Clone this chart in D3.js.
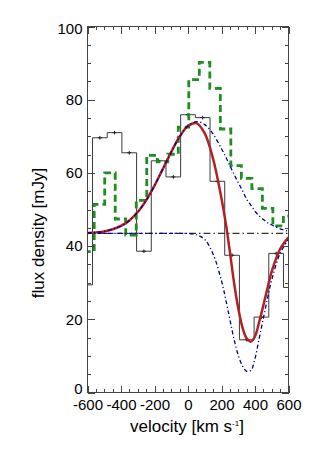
<!DOCTYPE html>
<html>
<head>
<meta charset="utf-8">
<script src="https://cdn.jsdelivr.net/npm/d3@7"></script>
<style>
  body { margin: 0; background: #fff; }
  text { font-family: "Liberation Sans", Arial, Helvetica, sans-serif; fill: #000; }
</style>
</head>
<body>
<div id="chart"></div>
<script>
// Observed spectrum, 87.7 km/s channels (black steps)
const BLACK_CENTERS = [-613.9, -526.2, -438.5, -350.8, -263.1, -175.4, -87.7, 0, 87.7, 175.4, 263.1, 350.8, 438.5, 526.2, 613.9];
const BLACK_FLUX = [29.4, 69.6, 71.0, 65.5, 38.6, 63.3, 58.9, 75.9, 75.1, 57.7, 37.5, 14.4, 20.6, 38.0, 28.7];
const BLACK_ERR = [0.5, 0.5, 0.5, 0.5, 0.5, 0.5, 0.5, 0.5, 0.5, 0.5, 0.5, 0.5, 0.5, 0.5, 0.5];
const BLACK_WIDTH = 87.7;

// Second spectrum, 62.75 km/s channels (green dashed steps)
const GREEN_CENTERS = [-591.4, -528.6, -465.9, -403.1, -340.4, -277.6, -214.9, -152.1, -89.4, -26.6,
                       36.1, 98.9, 161.6, 224.4, 287.1, 349.9, 412.6, 475.4, 538.1, 600.9];
const GREEN_FLUX = [38.5, 51.4, 60.0, 47.4, 43.0, 52.5, 64.8, 63.0, 65.1, 72.5,
                    85.5, 90.2, 83.1, 72.0, 62.0, 58.5, 55.7, 50.3, 45.5, 48.2];
const GREEN_WIDTH = 62.75;

// Model curves sampled along velocity
const MODEL_V = [-600, -550, -500, -450, -400, -350, -300, -250, -200, -150, -100, -50, 0, 50, 100, 150,
                 200, 225, 250, 275, 300, 325, 350, 375, 400, 425, 450, 475, 500, 550, 600];
const MODEL_TOTAL = [43.6, 43.75, 44.0, 44.6, 45.5, 47.0, 49.3, 52.5, 56.5, 61.1, 65.7, 69.9, 72.8, 73.6, 70.8, 63.8,
                     53.0, 46.4, 38.5, 30.0, 23.0, 17.8, 14.8, 13.9, 15.3, 19.3, 23.8, 28.6, 33.1, 39.2, 42.4];
const MODEL_EMISSION = [43.6, 43.75, 44.0, 44.6, 45.5, 47.0, 49.3, 52.5, 56.5, 61.1, 65.7, 69.9, 72.8, 74.0, 73.2, 70.6,
                        66.6, 64.4, 62.0, 59.6, 57.35, 55.2, 52.8, 51.2, 49.5, 48.3, 47.3, 46.4, 45.8, 44.7, 44.1];
const MODEL_ABSORPTION = [43.5, 43.5, 43.5, 43.5, 43.5, 43.5, 43.5, 43.5, 43.5, 43.5, 43.5, 43.5, 43.45, 43.1, 41.8, 37.8,
                          30.5, 25.5, 20.0, 14.5, 10.2, 7.3, 5.8, 6.0, 9.3, 14.8, 20.3, 25.8, 30.8, 38.0, 41.8];
const CONTINUUM = [43.5];

const X_TICKS = [-600, -400, -200, 0, 200, 400, 600];
const Y_TICKS = [0, 20, 40, 60, 80, 100];

const width = 314, height = 449;
const plotLeft = 87.5, plotRight = 288.5, plotTop = 26.5, plotBottom = 392.5;

const svg = d3.select('#chart').append('svg')
    .attr('width', width)
    .attr('height', height);

const x = d3.scaleLinear().domain([-600, 600]).range([plotLeft, plotRight]);
const y = d3.scaleLinear().domain([0, 100]).range([plotBottom, plotTop]);

svg.append('clipPath').attr('id', 'plot-clip')
    .append('rect')
    .attr('x', plotLeft).attr('y', plotTop)
    .attr('width', plotRight - plotLeft).attr('height', plotBottom - plotTop);

const plot = svg.append('g').attr('clip-path', 'url(#plot-clip)');

// build step outline: each channel is a flat top between its two edges
function stepPoints(centers, values, w) {
    const pts = [];
    centers.forEach((c, i) => {
        pts.push([c - w / 2, values[i]]);
        pts.push([c + w / 2, values[i]]);
    });
    return pts;
}

const line = d3.line().x(d => x(d[0])).y(d => y(d[1]));
const smooth = d3.line().x(d => x(d[0])).y(d => y(d[1])).curve(d3.curveCatmullRom.alpha(0.5));

// black histogram
plot.append('path')
    .attr('d', line(stepPoints(BLACK_CENTERS, BLACK_FLUX, BLACK_WIDTH)))
    .attr('fill', 'none')
    .attr('stroke', '#3a3a3a')
    .attr('stroke-width', 1);

// small error crosses at channel centres
BLACK_CENTERS.forEach((c, i) => {
    if (c < -600 || c > 600) return;
    const cx = x(c), cy = y(BLACK_FLUX[i]);
    plot.append('line')
        .attr('x1', cx - 2).attr('x2', cx + 2)
        .attr('y1', cy).attr('y2', cy)
        .attr('stroke', '#222').attr('stroke-width', 1);
    plot.append('line')
        .attr('x1', cx).attr('x2', cx)
        .attr('y1', y(BLACK_FLUX[i] - BLACK_ERR[i])).attr('y2', y(BLACK_FLUX[i] + BLACK_ERR[i]))
        .attr('stroke', '#222').attr('stroke-width', 1);
});

// green dashed histogram
plot.append('path')
    .attr('d', line(stepPoints(GREEN_CENTERS, GREEN_FLUX, GREEN_WIDTH)))
    .attr('fill', 'none')
    .attr('stroke', '#228b22')
    .attr('stroke-width', 2.8)
    .attr('stroke-dasharray', '7,4');

// continuum level (blue components drawn over it)
plot.append('line')
    .attr('x1', x(-600)).attr('x2', x(600))
    .attr('y1', y(CONTINUUM[0])).attr('y2', y(CONTINUUM[0]))
    .attr('stroke', '#333')
    .attr('stroke-width', 1.3)
    .attr('stroke-dasharray', '7,3,1.5,3');

// total model
plot.append('path')
    .attr('d', smooth(MODEL_V.map((v, i) => [v, MODEL_TOTAL[i]])))
    .attr('fill', 'none')
    .attr('stroke', '#b22222')
    .attr('stroke-width', 2.5);

// emission and absorption components
[MODEL_EMISSION, MODEL_ABSORPTION].forEach(series => {
    plot.append('path')
        .attr('d', smooth(MODEL_V.map((v, i) => [v, series[i]])))
        .attr('fill', 'none')
        .attr('stroke', '#00008b')
        .attr('stroke-width', 1.3)
        .attr('stroke-dasharray', '4,2.5,1.2,2.5');
});

// axes, ticks pointing inward on all four sides
const xMinor = d3.range(-600, 601, 50);
const yMinor = d3.range(0, 101, 5);
const plainNumber = d => String(d);

function styleAxis(g) {
    g.select('.domain').remove();
    g.selectAll('.tick line').attr('stroke', '#444').attr('shape-rendering', 'crispEdges');
    g.selectAll('text')
        .attr('fill', '#000')
        .style('font-size', '15px')
        .style('font-family', '"Liberation Sans", Arial, Helvetica, sans-serif');
}

svg.append('g').attr('transform', `translate(0,${plotBottom})`)
    .call(d3.axisBottom(x).tickValues(xMinor).tickSize(-3.5).tickFormat(''))
    .call(styleAxis);
svg.append('g').attr('transform', `translate(0,${plotBottom})`)
    .call(d3.axisBottom(x).tickValues(X_TICKS).tickSize(-7).tickPadding(7).tickFormat(plainNumber))
    .call(styleAxis);
svg.append('g').attr('transform', `translate(0,${plotTop})`)
    .call(d3.axisTop(x).tickValues(xMinor).tickSize(-3.5).tickFormat(''))
    .call(styleAxis);
svg.append('g').attr('transform', `translate(0,${plotTop})`)
    .call(d3.axisTop(x).tickValues(X_TICKS).tickSize(-7).tickFormat(''))
    .call(styleAxis);

svg.append('g').attr('transform', `translate(${plotLeft},0)`)
    .call(d3.axisLeft(y).tickValues(yMinor).tickSize(-3.5).tickFormat(''))
    .call(styleAxis);
svg.append('g').attr('transform', `translate(${plotLeft},0)`)
    .call(d3.axisLeft(y).tickValues(Y_TICKS).tickSize(-7).tickPadding(5).tickFormat(plainNumber))
    .call(styleAxis)
    .call(g => g.selectAll('text').attr('dy', d => d === 0 ? '0.08em' : d === 100 ? '0.45em' : '0.32em'));
svg.append('g').attr('transform', `translate(${plotRight},0)`)
    .call(d3.axisRight(y).tickValues(yMinor).tickSize(-3.5).tickFormat(''))
    .call(styleAxis);
svg.append('g').attr('transform', `translate(${plotRight},0)`)
    .call(d3.axisRight(y).tickValues(Y_TICKS).tickSize(-7).tickFormat(''))
    .call(styleAxis);

// frame
svg.append('rect')
    .attr('x', plotLeft).attr('y', plotTop)
    .attr('width', plotRight - plotLeft).attr('height', plotBottom - plotTop)
    .attr('fill', 'none')
    .attr('stroke', '#444')
    .attr('stroke-width', 1)
    .attr('shape-rendering', 'crispEdges');

// axis titles
const xTitle = svg.append('text')
    .attr('x', 187)
    .attr('y', 432)
    .attr('text-anchor', 'middle')
    .style('font-size', '17px');
xTitle.append('tspan').text('velocity [km s');
xTitle.append('tspan').attr('dy', -6).style('font-size', '8px').text('-1');
xTitle.append('tspan').attr('dy', 6).text(']');

svg.append('text')
    .attr('transform', 'translate(44,233) rotate(-90)')
    .attr('text-anchor', 'middle')
    .style('font-size', '17px')
    .text('flux density [mJy]');
</script>
</body>
</html>
